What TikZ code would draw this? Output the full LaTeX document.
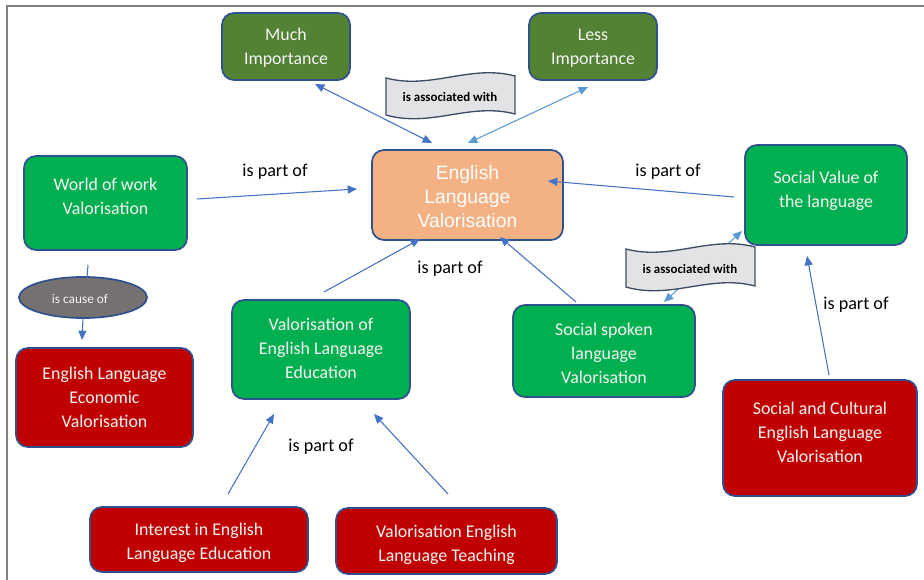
\documentclass[tikz,border=0pt]{standalone}
\usepackage{fontspec}
\setmainfont{Carlito}
\newfontfamily\arialf{Liberation Sans}
\usetikzlibrary{arrows.meta,shapes.geometric}
\definecolor{bord}{HTML}{2F528F}
\definecolor{edgeb}{HTML}{4472C4}
\definecolor{edgel}{HTML}{5B9BD5}
\definecolor{olive}{HTML}{548235}
\definecolor{gre}{HTML}{00B050}
\definecolor{redb}{HTML}{C00000}
\definecolor{orab}{HTML}{F4B183}
\definecolor{ellf}{HTML}{767171}
\definecolor{banf}{HTML}{E3E3E6}
\definecolor{banb}{HTML}{3E4C66}
\definecolor{txtc}{HTML}{F4F4F4}
\definecolor{frame}{HTML}{808080}
\begin{document}
\begin{tikzpicture}[x=0.75pt,y=-0.75pt,
  box/.style={draw=bord, line width=1.3pt, rounded corners=9pt, inner sep=0pt},
  txt/.style={align=center, text=txtc, font=\fontsize{13.4}{18}\selectfont, inner sep=0pt},
  lbl/.style={text=black, font=\fontsize{13.6}{16}\selectfont, inner sep=0pt},
  ban/.style={text=black, font=\bfseries\fontsize{9.7}{12}\selectfont, inner sep=0pt},
  conn/.style={draw=edgeb, line width=0.8pt, -{Triangle[length=7pt,width=6pt]}},
  connb/.style={draw=edgeb, line width=0.8pt, {Triangle[length=7pt,width=6pt]}-{Triangle[length=7pt,width=6pt]}},
  connl/.style={draw=edgel, line width=0.8pt, {Triangle[length=7pt,width=6pt]}-{Triangle[length=7pt,width=6pt]}},
  plain/.style={draw=edgeb, line width=0.8pt}
]
\useasboundingbox (0,0) rectangle (924,580);
% frame
\draw[frame, line width=1.5pt] (6.5,580) -- (6.5,6.5) -- (924,6.5);

% boxes
\node[box, fill=olive, minimum width=96pt, minimum height=50.25pt] (much) at (286,46.5) {};
\node[txt] (muchT) at (286,48) {Much\\Importance};
\node[box, fill=olive, minimum width=96pt, minimum height=50.25pt] (less) at (593,46.5) {};
\node[txt] (lessT) at (593,48) {Less\\Importance};

\node[box, fill=orab, minimum width=143.25pt, minimum height=67.5pt] (elv) at (467.5,195) {};
\node[txt, text=white, font=\arialf\fontsize{14.5}{18}\selectfont] (elvT) at (467.5,197) {English\\Language\\Valorisation};

\node[box, fill=gre, minimum width=122.25pt, minimum height=70.5pt] (work) at (105.5,203) {};
\node[txt] (workT) at (105.5,196) {World of work\\Valorisation};

\node[draw=bord, line width=1.3pt, fill=ellf, ellipse, minimum width=96pt, minimum height=30.75pt, inner sep=0pt] (cause) at (83,297.5) {};
\node[txt, font=\fontsize{10}{12}\selectfont] (causeT) at (80,299) {is cause of};

\node[box, fill=redb, minimum width=132.75pt, minimum height=74.25pt] (elev) at (104.5,397.5) {};
\node[txt] (elevT) at (104.5,397) {English Language\\Economic\\Valorisation};

\node[box, fill=gre, minimum width=133.5pt, minimum height=74.25pt] (vele) at (321,349.5) {};
\node[txt] (veleT) at (321,348) {Valorisation of\\English Language\\Education};

\node[box, fill=gre, minimum width=136.5pt, minimum height=69pt] (spoken) at (604,351) {};
\node[txt] (spokenT) at (604,353) {Social spoken\\language\\Valorisation};

\node[box, fill=gre, minimum width=121.5pt, minimum height=75pt] (sv) at (826,195) {};
\node[txt] (svT) at (826,191) {Social Value of\\the language};

\node[box, fill=redb, minimum width=145.5pt, minimum height=87pt] (sc) at (820,438) {};
\node[txt] (scT) at (820,432) {Social and Cultural\\English Language\\Valorisation};

\node[box, fill=redb, minimum width=163.5pt, minimum height=48.75pt] (interest) at (199,539.5) {};
\node[txt] (interestT) at (199,543) {Interest in English\\Language Education};

\node[box, fill=redb, minimum width=165.75pt, minimum height=49.5pt] (teach) at (446.5,541) {};
\node[txt] (teachT) at (446.5,545) {Valorisation English\\Language Teaching};

% connectors
\draw[connb] ([shift={(29,37.5)}]much.center) -- ([shift={(-35.5,-52)}]elv.center);
\draw[connl] ([shift={(-5,40.5)}]less.center) -- ([shift={(0.5,-52)}]elv.center);
\draw[conn] ([shift={(91.5,-4)}]work.center) -- ([shift={(-110.5,-6)}]elv.center);
\draw[conn] ([shift={(-92,2)}]sv.center) -- ([shift={(80.5,-14)}]elv.center);
\draw[conn] ([shift={(3,-57.5)}]vele.center) -- ([shift={(-47.5,44)}]elv.center);
\draw[conn] ([shift={(-28,-49)}]spoken.center) -- ([shift={(32.5,42)}]elv.center);
\draw[connl] ([shift={(60,-49)}]spoken.center) -- ([shift={(-84,36)}]sv.center);
\draw[conn] ([shift={(9,-63)}]sc.center) -- ([shift={(-19,61)}]sv.center);
\draw[conn] ([shift={(29,-45.5)}]interest.center) -- ([shift={(-47,64.5)}]vele.center);
\draw[conn] ([shift={(1.5,-47)}]teach.center) -- ([shift={(53,64.5)}]vele.center);
\draw[plain] ([shift={(-17.5,62)}]work.center) -- ([shift={(4,-19.5)}]cause.center);
\draw[conn] ([shift={(0,20.5)}]cause.center) -- ([shift={(-22.5,-57.5)}]elev.center);

% banners
\draw[draw=banb, fill=banf, line width=1pt]
  (386,78) .. controls (431,90) and (470,64) .. (515,76)
  -- (515,114) .. controls (470,102) and (431,128) .. (386,115) -- cycle;
\node[ban] (ban1) at (450,97) {is associated with};
\draw[draw=banb, fill=banf, line width=1pt]
  (626,249) .. controls (671,261) and (710,235) .. (755,247)
  -- (755,286) .. controls (710,274) and (671,300) .. (626,287) -- cycle;
\node[ban] (ban2) at (690,269) {is associated with};

% labels
\node[lbl] (l1) at (275,172) {is part of};
\node[lbl] (l2) at (668,172) {is part of};
\node[lbl] (l3) at (450,269) {is part of};
\node[lbl] (l4) at (856,305) {is part of};
\node[lbl] (l5) at (321,447) {is part of};
\end{tikzpicture}
\end{document}
